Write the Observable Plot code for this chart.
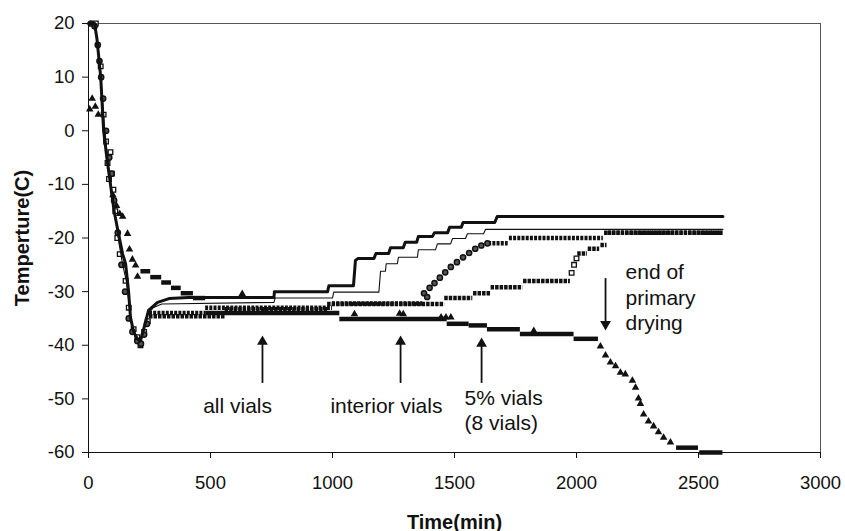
<!DOCTYPE html>
<html><head><meta charset="utf-8">
<script src="https://cdn.jsdelivr.net/npm/d3@7"></script>
<script src="https://cdn.jsdelivr.net/npm/@observablehq/plot@0.6"></script>
<style>
body{margin:0;background:#fff;}
#chart svg{font-family:"Liberation Sans",Arial,sans-serif;}
g[aria-label="x-axis label"],g[aria-label="y-axis label"]{font-weight:bold;font-size:20px;}
</style></head><body><div id="chart"></div>
<script>
const xTicks = [0, 500, 1000, 1500, 2000, 2500, 3000];
const yTicks = [-60, -50, -40, -30, -20, -10, 0, 10, 20];

// thick solid line [time, temp]
const thickLine = [[0,20],[25,20],[35,17],[50,10],[62,0],[75,-5],[90,-10],[105,-15],[123,-19.2],[140,-23],[152,-24.8],[164,-29.8],[172,-34.8],[185,-37.5],[200,-38.8],[213,-39.2],[225,-37.2],[246,-33.5],[283,-32],[330,-31.3],[410,-31.1],[760,-31.1],[762,-30],[980,-30],[985,-28.9],[1086,-28.9],[1094,-24.2],[1105,-23.8],[1170,-23.8],[1178,-22.9],[1230,-22.9],[1238,-21.8],[1290,-21.8],[1298,-20.8],[1345,-20.8],[1352,-19.7],[1410,-19.7],[1418,-19],[1472,-19],[1480,-18],[1528,-18],[1535,-17.1],[1665,-17.1],[1675,-16],[2600,-16]];

// thin solid line
const thinLine = [[0,20],[25,20],[38,16],[52,9],[65,1],[80,-6],[95,-11],[110,-16],[125,-21],[140,-25],[155,-28],[168,-33],[180,-36.5],[195,-38.8],[210,-39.4],[222,-38],[240,-34.5],[265,-33],[300,-32.3],[760,-32],[765,-31.2],[1000,-31.2],[1005,-30.1],[1190,-30.1],[1197,-26.2],[1217,-26.2],[1220,-24.8],[1266,-24.8],[1270,-23.6],[1348,-23.6],[1352,-22.2],[1422,-22.2],[1430,-21.1],[1484,-21.1],[1492,-20.1],[1545,-20.1],[1553,-19.2],[1619,-19.2],[1627,-18.4],[2600,-18.4]];

// open circles: sparse points and dense runs [t1, t2, temp]
const circlePoints = [[10,20],[25,19.5],[38,16],[45,13],[52,10],[60,6],[72,0],[85,-5],[95,-8],[105,-13],[120,-19],[135,-25],[150,-30],[165,-35],[180,-37.5],[200,-39.2],[215,-39.7],[228,-38],[240,-36],[1375,-30.3],[1388,-31],[1398,-29.3],[1418,-28.4],[1440,-27.4],[1462,-26.4],[1485,-25.4],[1510,-24.5],[1535,-23.6],[1560,-22.8],[1585,-22],[1610,-21.4],[1635,-21]];
const circleRuns = [[250,480,-34],[480,1000,-33],[1000,1370,-32.2],[1640,1720,-21],[1725,2110,-20],[2115,2600,-19]];

// open squares
const squarePoints = [[30,20],[50,12],[62,3],[72,-2],[78,-6],[84,-9],[90,-4],[96,-8],[102,-11],[110,-15],[118,-20],[128,-23],[140,-25],[152,-28],[165,-33],[185,-37],[200,-38.5],[213,-40],[228,-37.5],[243,-35.5],[1980,-26.5],[1990,-25],[2000,-23.8]];
const squareRuns = [[250,560,-34.6],[560,980,-33.3],[980,1460,-32.3],[1460,1575,-31.2],[1578,1648,-30.3],[1650,1780,-29.2],[1783,1975,-28],[2005,2045,-22.9],[2048,2095,-22],[2100,2125,-21.3],[2128,2600,-19]];

// filled triangles
const trianglePoints = [[5,4],[15,6],[28,4.5],[40,3],[100,-12],[115,-14],[128,-15.5],[140,-16],[160,-19.2],[168,-22.1],[180,-24],[193,-25.1],[201,-27.2],[630,-30.4],[725,-33.9],[1090,-34.2],[1275,-34.1],[1290,-34.2],[1445,-34.8],[1465,-34.8],[1485,-34.8],[1825,-37.3],[2098,-40.2],[2119,-41.9],[2139,-43.2],[2160,-43.9],[2180,-45.1],[2200,-45.4],[2229,-46.6],[2242,-47.9],[2254,-49.9],[2262,-50.9],[2275,-52.9],[2295,-54.2],[2316,-55.1],[2336,-56.2],[2357,-57.2],[2385,-58.1]];
const triangleRuns = [[215,255,-26.2],[255,300,-27.3],[300,340,-28.3],[340,380,-29.3],[380,430,-30.3],[430,480,-31.2],[480,1030,-34],[1030,1470,-35.1],[1470,1560,-36],[1560,1635,-36.3],[1635,1770,-37],[1770,1990,-37.9],[1990,2090,-38.8],[2410,2500,-59.1],[2505,2600,-60]];

// annotations: up arrows (tail -> tip), down arrow, texts
const upArrows = [{x: 713, y1: -46, y2: -38.2}, {x: 1279, y1: -46, y2: -38.2}, {x: 1611, y1: -46, y2: -38.6}];
const downArrows = [{x: 2119, y1: -28.7, y2: -37.2}];
const centerLabels = [
  {x: 611, y: -51.4, text: "all vials"},
  {x: 1221, y: -51.4, text: "interior vials"}
];
const leftLabels = [
  {x: 1541, y: -51.9, text: "5% vials\n(8 vials)"},
  {x: 2201, y: -30.9, text: "end of\nprimary\ndrying"}
];

const toPts = a => a.map(([t, v]) => ({t, v}));
const toRuns = a => a.map(([t1, t2, v]) => ({t1, t2, v}));
const fmt = d => String(d);

const chart = Plot.plot({
  width: 845, height: 531,
  marginLeft: 88, marginRight: 25, marginTop: 23, marginBottom: 79,
  style: {fontSize: "18.5px", fontFamily: "'Liberation Sans', Arial, sans-serif", color: "#111"},
  x: {domain: [0, 3000]},
  y: {domain: [-60, 20]},
  marks: [
    Plot.frame({stroke: "#555"}),
    Plot.axisX({ticks: xTicks, tickFormat: fmt, tickSize: 6, tickPadding: 17, label: "Time(min)", labelAnchor: "center", labelOffset: 76, labelArrow: "none"}),
    Plot.axisY({ticks: yTicks, tickFormat: fmt, tickSize: 6, tickPadding: 8, label: "Temperture(C)", labelAnchor: "center", labelOffset: 74, labelArrow: "none"}),
    Plot.ruleX([0], {stroke: "#111"}),
    Plot.ruleY([-60], {stroke: "#111"}),
    // dense marker bands
    Plot.ruleY(toRuns(triangleRuns), {y: "v", x1: "t1", x2: "t2", stroke: "#111", strokeWidth: 4.5}),
    Plot.ruleY(toRuns(squareRuns), {y: "v", x1: "t1", x2: "t2", stroke: "#111", strokeWidth: 4.5, strokeDasharray: "3.5,1"}),
    Plot.ruleY(toRuns(circleRuns), {y: "v", x1: "t1", x2: "t2", stroke: "#111", strokeWidth: 4.5, strokeDasharray: "3,1.2"}),
    Plot.dot(toPts(trianglePoints), {x: "t", y: "v", symbol: "triangle", fill: "#111", r: 2.8}),
    Plot.dot(toPts(squarePoints), {x: "t", y: "v", symbol: "square", fill: "white", stroke: "#111", strokeWidth: 1.3, r: 2.6}),
    Plot.dot(toPts(circlePoints), {x: "t", y: "v", symbol: "circle", fill: "#555", stroke: "#111", strokeWidth: 1.5, r: 2.6}),
    Plot.line(toPts(thinLine), {x: "t", y: "v", stroke: "#111", strokeWidth: 1.1}),
    Plot.line(toPts(thickLine), {x: "t", y: "v", stroke: "#111", strokeWidth: 3}),
    // arrows: shaft + filled head
    Plot.ruleX(upArrows, {x: "x", y1: "y1", y2: "y2", stroke: "#111", strokeWidth: 1.8, dy: 6}),
    Plot.dot(upArrows, {x: "x", y: "y2", symbol: "triangle", fill: "#111", r: 4, dy: 6}),
    Plot.ruleX(downArrows, {x: "x", y1: "y1", y2: "y2", stroke: "#111", strokeWidth: 1.8, dy: -6}),
    Plot.dot(downArrows, {x: "x", y: "y2", symbol: "triangle", fill: "#111", r: 4, rotate: 180, dy: -6}),
    Plot.text(centerLabels, {x: "x", y: "y", text: "text", textAnchor: "middle", fontSize: 21, fill: "#111"}),
    Plot.text(leftLabels, {x: "x", y: "y", text: "text", textAnchor: "start", lineHeight: 1.2, fontSize: 21, fill: "#111"})
  ]
});
document.getElementById("chart").append(chart);
</script>
</body></html>
